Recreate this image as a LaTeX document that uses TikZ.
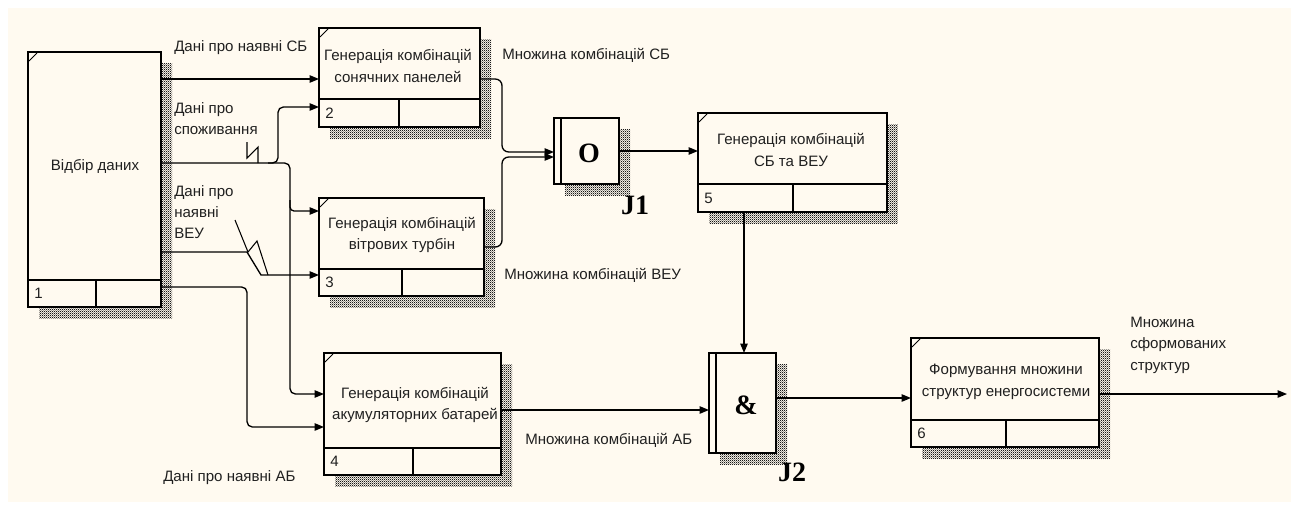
\documentclass[tikz,border=0pt]{standalone}
\usepackage{fontspec}
\setmainfont{Liberation Sans}
\newfontfamily\jfont{Liberation Serif}
\usetikzlibrary{arrows.meta,patterns}
\definecolor{bgc}{HTML}{FFFAF0}
\definecolor{txt}{HTML}{202020}
\pgfdeclarepatternformonly{finechk}{\pgfqpoint{0pt}{0pt}}{\pgfqpoint{1.6pt}{1.6pt}}{\pgfqpoint{1.6pt}{1.6pt}}{%
  \pgfpathrectangle{\pgfqpoint{0pt}{0pt}}{\pgfqpoint{0.8pt}{0.8pt}}%
  \pgfpathrectangle{\pgfqpoint{0.8pt}{0.8pt}}{\pgfqpoint{0.8pt}{0.8pt}}%
  \pgfusepath{fill}}
\tikzset{
  box/.style={draw=black, line width=1pt, fill=bgc, inner sep=0pt, outer sep=0pt, rectangle},
  shadowpat/.style={pattern=finechk, pattern color=black!90},
  lbl/.style={font=\fontsize{11.3}{16}\selectfont, text=txt, inner sep=0pt, align=left},
  btxt/.style={font=\fontsize{11.3}{16}\selectfont, text=txt, inner sep=0pt, align=center},
  num/.style={font=\fontsize{11.3}{13}\selectfont, text=txt, inner sep=0pt},
  jtxt/.style={font=\jfont\bfseries\fontsize{21}{23}\selectfont, text=black, inner sep=0pt},
  arr/.style={draw=black, line width=1pt, -{Triangle[length=7pt,width=5.5pt]}},
  wire/.style={draw=black, line width=1pt},
  squig/.style={draw=black, line width=0.8pt}
}
% name, x, y, right, bottom, divider y, vdiv x, number
\newcommand\idefbox[8]{%
  \fill[shadowpat] (#2+11,#3+11) rectangle (#4+11,#5+11);
  \node[box, anchor=north west, minimum width={(#4-#2)*0.75pt}, minimum height={(#5-#3)*0.75pt}] (#1) at (#2,#3) {};
  \draw[line width=0.7pt] (#2+1,#3+9) -- (#2+9,#3+1);
  \draw[line width=1pt] (#2,#6) -- (#4,#6);
  \draw[line width=1pt] (#7,#6) -- (#7,#5);
  \node[num, anchor=west] (#1n) at (#2+6,{(#6+#5)/2}) {#8};
}
\newcommand\junction[6]{% name, x, y, right, bottom, inner x
  \fill[shadowpat] (#2+11,#3+11) rectangle (#4+11,#5+11);
  \node[box, anchor=north west, minimum width={(#4-#2)*0.75pt}, minimum height={(#5-#3)*0.75pt}] (#1) at (#2,#3) {};
  \draw[line width=1pt] (#6,#3) -- (#6,#5);
}
\begin{document}
\begin{tikzpicture}[x=0.75pt,y=-0.75pt]
\useasboundingbox (0,0) rectangle (1294,507);
\fill[white] (0,0) rectangle (1294,507);
\fill[bgc] (8,8) rectangle (1291,502);

% boxes
\idefbox{b1}{28}{52}{161}{307}{280}{96}{1}
\idefbox{b2}{319}{28}{480}{127}{99}{399}{2}
\idefbox{b3}{319}{198}{484}{296}{269}{402}{3}
\idefbox{b4}{324}{353}{501}{475}{448}{413}{4}
\idefbox{b5}{698}{113}{887}{212}{184}{793}{5}
\idefbox{b6}{911}{338}{1099}{447}{420}{1006}{6}
\junction{j1}{554}{118}{619}{184}{561}
\junction{j2}{709}{353}{776}{453}{716}

% box texts
\node[btxt] (t1) at (95,167) {Відбір даних};
\node[btxt] (t2) at (398,66) {Генерація комбінацій\\сонячних панелей};
\node[btxt] (t3) at (402,235) {Генерація комбінацій\\вітрових турбін};
\node[btxt] (t4) at (415,405) {Генерація комбінацій\\акумуляторних батарей};
\node[btxt] (t5) at (791,150) {Генерація комбінацій\\СБ та ВЕУ};
\node[btxt] (t6) at (1006,382) {Формування множини\\структур енергосистеми};
\node[jtxt] (o1) at (589,153) {O};
\node[jtxt] (a2) at (746,405) {\&};
\node[jtxt] (jl1) at (635,205) {J1};
\node[jtxt] (jl2) at (792,472) {J2};

% coordinates
\coordinate (s1) at (268,163);
\coordinate (s2) at (290,200);
\coordinate (out) at (1287,394);

% inputs
\draw[arr] (b1.east |- 0,79) -- (b2.west |- 0,79);
\draw[arr, rounded corners=4pt] (b1.east |- 0,163) -- (290,163) -- (290,394) -- (b4.west |- 0,394);
\draw[arr, rounded corners=4pt] (s1) -- (278,163) -- (278,107) -- (b2.west |- 0,107);
\draw[arr, rounded corners=3pt] (s2) -- (290,211) -- (b3.west |- 0,211);
\draw[arr] (b1.east |- 0,252) -- (247,252) -- (261,275) -- (b3.west |- 0,275);
\draw[arr, rounded corners=4pt] (b1.east |- 0,287) -- (247,287) -- (247,427) -- (b4.west |- 0,427);

% squiggles
\draw[squig] (247,142) -- (247,158) -- (258,147) -- (258,163);
\draw[squig] (235,220) -- (248,252) -- (257,241) -- (268,275);

% outputs
\draw[arr, rounded corners=5pt] (b2.east |- 0,79) -- (502,79) -- (502,152) -- (j1.west |- 0,152);
\draw[arr, rounded corners=5pt] (b3.east |- 0,247) -- (502,247) -- (502,157) -- (j1.west |- 0,157);
\draw[arr] (j1.east |- 0,151) -- (b5.west |- 0,151);
\draw[arr] (b5.south -| 744,0) -- (j2.north -| 744,0);
\draw[arr] (b4.east |- 0,410) -- (j2.west |- 0,410);
\draw[arr] (j2.east |- 0,398) -- (b6.west |- 0,398);
\draw[arr] (b6.east |- 0,394) -- (out);

% labels
\node[lbl, anchor=west] (l1) at (174,48) {Дані про наявні СБ};
\node[lbl, anchor=north west] (l2) at (174,102) {Дані про\\споживання};
\node[lbl, anchor=north west] (l3) at (174,185) {Дані про\\наявні\\ВЕУ};
\node[lbl, anchor=west] (l4) at (163,478) {Дані про наявні АБ};
\node[lbl, anchor=west] (l5) at (502,55) {Множина комбінацій СБ};
\node[lbl, anchor=west] (l6) at (504,275) {Множина комбінацій ВЕУ};
\node[lbl, anchor=west] (l7) at (525,440) {Множина комбінацій АБ};
\node[lbl, anchor=north west] (l8) at (1130,317) {Множина\\сформованих\\структур};
\end{tikzpicture}
\end{document}
